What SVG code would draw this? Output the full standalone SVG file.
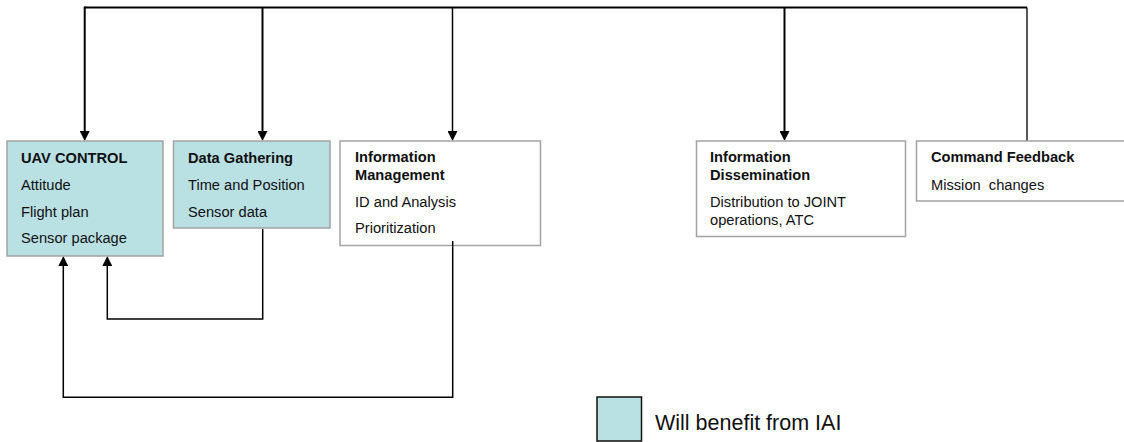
<svg xmlns="http://www.w3.org/2000/svg" width="1124" height="442" viewBox="0 0 1124 442">
  <style>
    .box { stroke: #a3a3a3; stroke-width: 1.5; }
    .teal { fill: #b9e0e3; }
    .white { fill: #ffffff; }
    text { font-family: "Liberation Sans", Arial, sans-serif; font-size: 14.67px; fill: #111; }
    .b { font-weight: bold; }
    .conn { fill: none; stroke: #000; }
  </style>
  <defs>
    <marker id="arr" viewBox="0 0 10 10" refX="2" refY="5" markerWidth="10" markerHeight="10" markerUnits="userSpaceOnUse" orient="auto">
      <path d="M0,0 L10,5 L0,10 Z" fill="#000"/>
    </marker>
  </defs>
  <rect width="1124" height="442" fill="#fff"/>

  <g id="connectors">
    <path class="conn" stroke-width="2" d="M84.7,7.5 H1027"/>
    <path class="conn" stroke-width="2" d="M84.7,6.5 V133" marker-end="url(#arr)"/>
    <path class="conn" stroke-width="2" d="M262.5,7.5 V133" marker-end="url(#arr)"/>
    <path class="conn" stroke-width="1.5" d="M452.5,7.5 V133" marker-end="url(#arr)"/>
    <path class="conn" stroke-width="2" d="M784.5,7.5 V133" marker-end="url(#arr)"/>
    <path class="conn" stroke-width="1.3" d="M1027,7.5 V141"/>
    <path class="conn" stroke-width="1.5" d="M262.7,229 V319 H107.3 V264" marker-end="url(#arr)"/>
    <path class="conn" stroke-width="1.5" d="M452.7,241 V397.3 H63.3 V264" marker-end="url(#arr)"/>
  </g>

  <g id="uav-control">
    <rect class="box teal" x="7" y="141" width="156" height="115"/>
    <text class="b" x="21" y="162.5">UAV CONTROL</text>
    <text x="21" y="190">Attitude</text>
    <text x="21" y="216.7">Flight plan</text>
    <text x="21" y="243.3">Sensor package</text>
  </g>

  <g id="data-gathering">
    <rect class="box teal" x="173.5" y="141" width="156.5" height="87"/>
    <text class="b" x="188" y="162.5">Data Gathering</text>
    <text x="188" y="190">Time and Position</text>
    <text x="188" y="216.7">Sensor data</text>
  </g>

  <g id="information-management">
    <rect class="box white" x="340" y="141" width="200.5" height="104.5"/>
    <text class="b" x="355" y="162.3">Information</text>
    <text class="b" x="355" y="180">Management</text>
    <text x="355" y="206.7">ID and Analysis</text>
    <text x="355" y="233.3">Prioritization</text>
  </g>
  <path class="conn" stroke-width="1.5" d="M452.7,241 V246"/>

  <g id="information-dissemination">
    <rect class="box white" x="696.5" y="141" width="209" height="95.5"/>
    <text class="b" x="710" y="162.3">Information</text>
    <text class="b" x="710" y="180">Dissemination</text>
    <text x="710" y="207.3">Distribution to JOINT</text>
    <text x="710" y="225.3">operations, ATC</text>
  </g>

  <g id="command-feedback">
    <rect class="box white" x="916.5" y="141" width="212" height="60"/>
    <text class="b" x="931" y="162.3">Command Feedback</text>
    <text x="931" y="190" xml:space="preserve">Mission  changes</text>
  </g>

  <g id="legend">
    <rect x="597" y="397" width="44.5" height="44" fill="#b9e0e3" stroke="#111" stroke-width="1.5"/>
    <text x="655" y="429.5" style="font-size:21.5px">Will benefit from IAI</text>
  </g>
</svg>
